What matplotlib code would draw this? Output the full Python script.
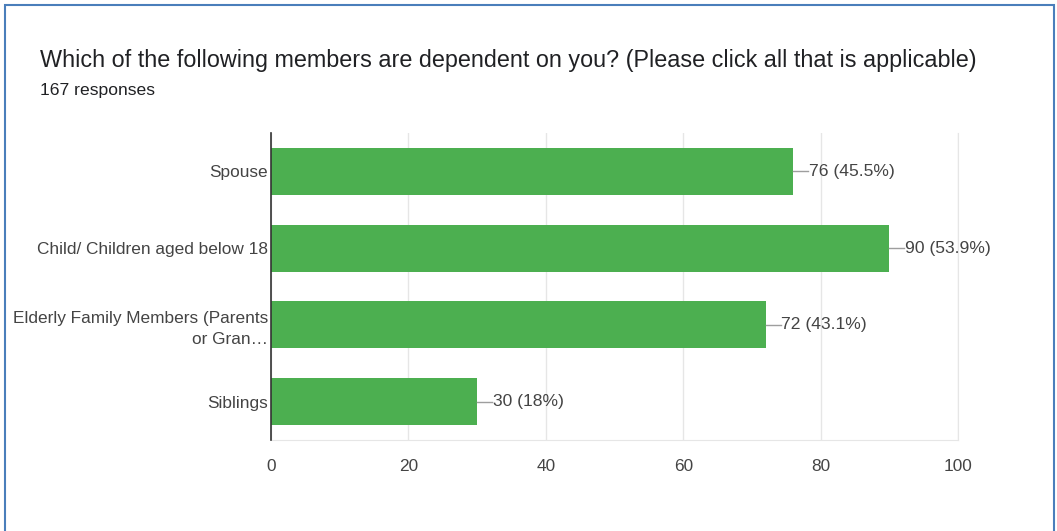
import matplotlib.pyplot as plt
from matplotlib.patches import Rectangle

plt.rcParams['font.family'] = ['Liberation Sans', 'DejaVu Sans']

# Respostas da pergunta sobre dependentes
categorias = ["Spouse", "Child/ Children aged below 18",
              "Elderly Family Members (Parents\nor Gran…", "Siblings"]
contagens = [76, 90, 72, 30]
percentuais = ["45.5%", "53.9%", "43.1%", "18%"]
total_respostas = 167
ticks_x = [0, 20, 40, 60, 80, 100]

fig = plt.figure(figsize=(10.57, 5.31), dpi=100)
W, H = 1057, 531

# moldura azul do cartao
fig.patches.append(Rectangle((5 / W, -0.1), 1049 / W, 1.1 - 5 / H,
                             transform=fig.transFigure, fill=False,
                             edgecolor='#4a7ebb', linewidth=1.5))

fig.text(40 / W, 1 - 60 / H, "Which of the following members are dependent on you? "
         "(Please click all that is applicable)",
         fontsize=16.8, color='#202124', va='center')
fig.text(40 / W, 1 - 90 / H, f"{total_respostas} responses",
         fontsize=12.6, color='#202124', va='center')

ax = fig.add_axes([271 / W, 1 - 440 / H, (958 - 271) / W, (440 - 133) / H])
y = list(range(len(categorias)))
ax.barh(y, contagens, height=0.61, color='#4caf50', zorder=3)

for yi, v, p in zip(y, contagens, percentuais):
    ax.plot([v, v + 2.2], [yi, yi], color='#9e9e9e', linewidth=1, zorder=3,
            clip_on=False)
    ax.text(v + 2.3, yi, f"{v} ({p})", va='center', ha='left',
            fontsize=12.6, color='#444444')

ax.set_xlim(0, 100)
ax.set_ylim(len(categorias) - 0.5, -0.5)
ax.set_xticks(ticks_x)
ax.set_yticks(y)
ax.set_yticklabels(categorias, ha='right', linespacing=1.45)
ax.tick_params(axis='both', length=0, labelsize=12.4, labelcolor='#444444')
ax.tick_params(axis='x', pad=14)
ax.tick_params(axis='y', pad=2)
ax.grid(axis='x', color='#e6e6e6', linewidth=1, zorder=0)

ax.spines['top'].set_visible(False)
ax.spines['right'].set_color('#e6e6e6')
ax.spines['bottom'].set_color('#e6e6e6')
ax.spines['left'].set_color('#333333')
ax.spines['left'].set_linewidth(1.2)
ax.spines['left'].set_zorder(4)

fig.savefig('out.png', dpi=100)
